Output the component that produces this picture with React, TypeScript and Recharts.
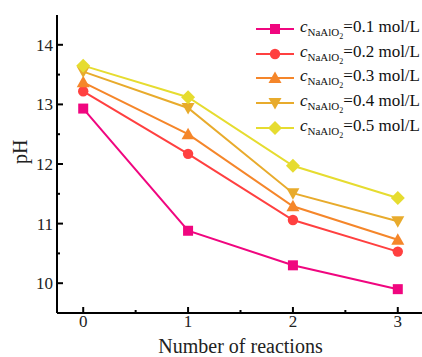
import React from 'react'
import { LineChart, Line, XAxis, YAxis } from 'recharts'

const reactions = [0, 1, 2, 3]
const concentrations = ['0.1', '0.2', '0.3', '0.4', '0.5']
const ph01 = [12.93, 10.88, 10.3, 9.9]
const ph02 = [13.22, 12.17, 11.06, 10.53]
const ph03 = [13.37, 12.5, 11.29, 10.73]
const ph04 = [13.55, 12.94, 11.51, 11.04]
const ph05 = [13.65, 13.12, 11.97, 11.43]

const xTicks = [0, 0.5, 1, 1.5, 2, 2.5, 3]
const yTicks = [10, 10.5, 11, 11.5, 12, 12.5, 13, 13.5, 14]

const FONT = '"Liberation Serif", serif'

type Shape = 'square' | 'circle' | 'triangle' | 'down' | 'diamond'

const seriesMeta: { key: string; color: string; shape: Shape }[] = [
  { key: 's01', color: '#F0067F', shape: 'square' },
  { key: 's02', color: '#FF4040', shape: 'circle' },
  { key: 's03', color: '#F5862A', shape: 'triangle' },
  { key: 's04', color: '#E8AB2C', shape: 'down' },
  { key: 's05', color: '#E6DC30', shape: 'diamond' },
]

const data = reactions.map((n, i) => ({
  n,
  s01: ph01[i],
  s02: ph02[i],
  s03: ph03[i],
  s04: ph04[i],
  s05: ph05[i],
}))

const Marker = ({ cx, cy, shape, color }: { cx: number; cy: number; shape: Shape; color: string }) => {
  switch (shape) {
    case 'square':
      return <rect x={cx - 5} y={cy - 5} width={10} height={10} fill={color} />
    case 'circle':
      return <circle cx={cx} cy={cy} r={5.2} fill={color} />
    case 'triangle':
      return <polygon points={`${cx},${cy - 6.5} ${cx + 6.5},${cy + 5} ${cx - 6.5},${cy + 5}`} fill={color} />
    case 'down':
      return <polygon points={`${cx},${cy + 6.5} ${cx + 6.5},${cy - 5} ${cx - 6.5},${cy - 5}`} fill={color} />
    default:
      return <polygon points={`${cx},${cy - 7} ${cx + 7},${cy} ${cx},${cy + 7} ${cx - 7},${cy}`} fill={color} />
  }
}

const XTick = (props: any) => {
  const { x, y, payload } = props
  const major = Number.isInteger(payload.value)
  return (
    <g>
      <line x1={x} x2={x} y1={y} y2={y - (major ? 6 : 3)} stroke="#000" strokeWidth={2} />
      {major && (
        <text x={x} y={y + 14} textAnchor="middle" fontFamily={FONT} fontSize={17} fill="#222">
          {payload.value}
        </text>
      )}
    </g>
  )
}

const YTick = (props: any) => {
  const { x, y, payload } = props
  const major = Number.isInteger(payload.value)
  return (
    <g>
      <line x1={x} x2={x + (major ? 6 : 3)} y1={y} y2={y} stroke="#000" strokeWidth={2} />
      {major && (
        <text x={x - 4} y={y + 6} textAnchor="end" fontFamily={FONT} fontSize={17} fill="#222">
          {payload.value}
        </text>
      )}
    </g>
  )
}

// legend is laid over the plot so it doesn't shrink the plotting area
const LegendBox = () => (
  <div style={{ position: 'absolute', left: 256, top: 17, fontFamily: FONT, color: '#111' }}>
    {seriesMeta.map((s, i) => (
      <div key={s.key} style={{ display: 'flex', alignItems: 'center', height: 24.6 }}>
        <svg width={40} height={16} style={{ marginRight: 4 }}>
          <line x1={0} x2={38} y1={8} y2={8} stroke={s.color} strokeWidth={2} />
          <Marker cx={19} cy={8} shape={s.shape} color={s.color} />
        </svg>
        <span style={{ fontSize: 17, whiteSpace: 'nowrap' }}>
          <i>c</i>
          <sub style={{ fontSize: 11, verticalAlign: -4 }}>
            NaAlO<sub style={{ fontSize: 8, verticalAlign: -3 }}>2</sub>
          </sub>
          ={concentrations[i]} mol/L
        </span>
      </div>
    ))}
  </div>
)

export default function App() {
  return (
    <div style={{ position: 'absolute', left: 0, top: 0, width: 422, height: 357, overflow: 'hidden', background: '#fff' }}>
      <LineChart width={440} height={357} data={data} margin={{ top: 15, right: 16, bottom: 0, left: 0 }}>
        <XAxis
          dataKey="n"
          type="number"
          domain={[-0.25, 3.25]}
          ticks={xTicks}
          interval={0}
          height={44}
          tickSize={0}
          tickMargin={0}
          tickLine={false}
          tick={<XTick />}
          axisLine={{ stroke: '#000', strokeWidth: 2 }}
          label={{ value: 'Number of reactions', position: 'insideBottom', offset: 4, fontFamily: FONT, fontSize: 20, fill: '#222' }}
        />
        <XAxis xAxisId="top" orientation="top" dataKey="n" type="number" domain={[-0.25, 3.25]} height={0} tick={false} tickLine={false} axisLine={{ stroke: '#000', strokeWidth: 2 }} />
        <YAxis
          type="number"
          domain={[9.5, 14.5]}
          ticks={yTicks}
          interval={0}
          width={57}
          tickSize={0}
          tickMargin={0}
          tickLine={false}
          tick={<YTick />}
          axisLine={{ stroke: '#000', strokeWidth: 2 }}
          label={{ value: 'pH', angle: -90, position: 'insideLeft', offset: 20, fontFamily: FONT, fontSize: 20, fill: '#222' }}
        />
        {seriesMeta.map((s) => (
          <Line
            key={s.key}
            dataKey={s.key}
            stroke={s.color}
            strokeWidth={2}
            isAnimationActive={false}
            dot={(p: any) => <Marker key={`${s.key}-${p.index}`} cx={p.cx} cy={p.cy} shape={s.shape} color={s.color} />}
            activeDot={false}
          />
        ))}
      </LineChart>
      <LegendBox />
    </div>
  )
}
